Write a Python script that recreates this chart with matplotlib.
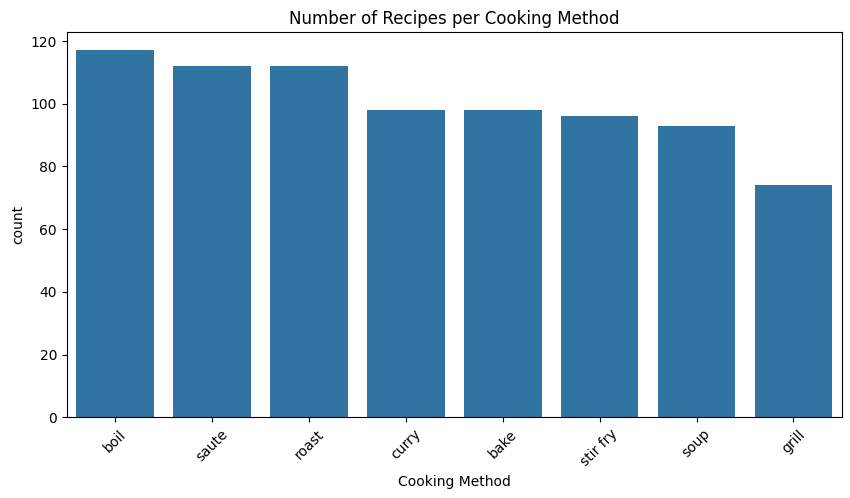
import matplotlib
matplotlib.use('Agg')
import matplotlib.pyplot as plt
import seaborn as sns
import pandas as pd

methods = ['boil', 'saute', 'roast', 'curry', 'bake', 'stir fry', 'soup', 'grill']
counts = [117, 112, 112, 98, 98, 96, 93, 74]

df = pd.DataFrame({'Cooking Method': methods, 'count': counts})

fig = plt.figure(figsize=(8.5, 4.98), dpi=100)
ax = fig.add_axes([0.0785, 0.162, 0.912, 0.7735])
sns.barplot(data=df, x='Cooking Method', y='count', color='#1f77b4', saturation=0.75, ax=ax)
ax.set_title('Number of Recipes per Cooking Method')
plt.xticks(rotation=45)
fig.savefig('out.png', dpi=100)
